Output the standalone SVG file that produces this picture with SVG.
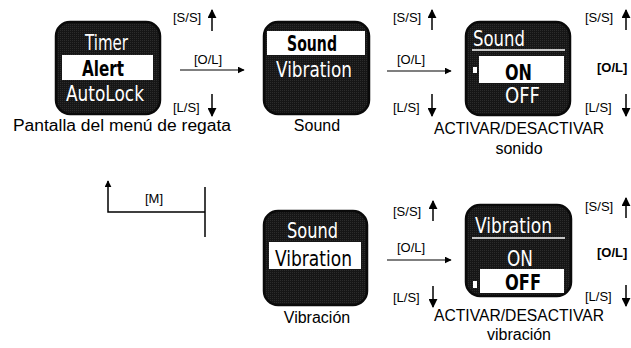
<svg xmlns="http://www.w3.org/2000/svg" width="631" height="348" viewBox="0 0 631 348">
<defs>
<pattern id="lcd" width="2" height="2" patternUnits="userSpaceOnUse">
<rect width="2" height="2" fill="#161616"/>
<rect width="1" height="1" fill="#2c2c2c"/>
</pattern>
<marker id="ah" viewBox="0 0 10 10" refX="9" refY="5" markerWidth="7" markerHeight="7" markerUnits="userSpaceOnUse" orient="auto">
<path d="M0,0 L10,5 L0,10 Z" fill="#000"/>
</marker>
<marker id="ahb" viewBox="0 0 10 10" refX="9" refY="5" markerWidth="9" markerHeight="9" markerUnits="userSpaceOnUse" orient="auto">
<path d="M0,0 L10,5 L0,10 Z" fill="#000"/>
</marker>
</defs>
<style>
.dev{fill:url(#lcd);stroke:#0a0a0a;stroke-width:2.5}
.band{fill:#fff}
.lcd{font-family:"DejaVu Sans","Liberation Sans",sans-serif;fill:#fff;font-size:21.5px}
.lcdk{font-family:"DejaVu Sans","Liberation Sans",sans-serif;fill:#000;font-size:21.5px}
.lbl{font-family:"Liberation Sans",Arial,sans-serif;font-size:13px;fill:#000}
.bold{font-weight:bold}
.cap{font-family:"Liberation Sans",Arial,sans-serif;font-size:16px;fill:#000;text-anchor:middle}
.ln{stroke:#000;stroke-width:1.5;fill:none}
.arr{stroke:#000;stroke-width:1.5;fill:none;marker-end:url(#ahb)}
.arrh{stroke:#000;stroke-width:1.2;fill:none;marker-end:url(#ah)}
</style>

<g id="screen-menu">
<rect class="dev" x="56" y="22" width="104" height="92" rx="14"/>
<rect class="band" x="62" y="55" width="91" height="25"/>
<text class="lcd" x="85" y="50" textLength="43" lengthAdjust="spacingAndGlyphs">Timer</text>
<text class="lcdk bold" x="82" y="76" textLength="42" lengthAdjust="spacingAndGlyphs">Alert</text>
<text class="lcd" x="66" y="101" textLength="78" lengthAdjust="spacingAndGlyphs">AutoLock</text>
<text class="cap" x="122" y="131" textLength="218" lengthAdjust="spacingAndGlyphs">Pantalla del menú de regata</text>
</g>

<g id="screen-sound">
<rect class="dev" x="264" y="22" width="105" height="92" rx="14"/>
<rect class="band" x="267" y="31" width="98" height="24"/>
<text class="lcdk" x="287" y="51" textLength="50" lengthAdjust="spacingAndGlyphs" style="font-weight:600">Sound</text>
<text class="lcd" x="276" y="77" textLength="76" lengthAdjust="spacingAndGlyphs">Vibration</text>
<text class="cap" x="317" y="131">Sound</text>
</g>

<g id="screen-sound-onoff">
<rect class="dev" x="466" y="22" width="104" height="93" rx="14"/>
<text class="lcd" x="473" y="46" textLength="52" lengthAdjust="spacingAndGlyphs">Sound</text>
<line x1="472" y1="50" x2="565" y2="50" stroke="#fff" stroke-width="1.5"/>
<rect class="band" x="479" y="56" width="85" height="27"/>
<rect class="band" x="473" y="67" width="4" height="6"/>
<text class="lcdk" x="505" y="80" textLength="27" lengthAdjust="spacingAndGlyphs" style="font-weight:600">ON</text>
<text class="lcd" x="505" y="103" textLength="35" lengthAdjust="spacingAndGlyphs">OFF</text>
<text class="cap" x="519" y="134" textLength="170" lengthAdjust="spacingAndGlyphs">ACTIVAR/DESACTIVAR</text>
<text class="cap" x="519" y="154">sonido</text>
</g>

<g id="screen-vibration">
<rect class="dev" x="264" y="211" width="103" height="94" rx="14"/>
<rect class="band" x="269" y="242" width="92" height="27"/>
<text class="lcd" x="287" y="238" textLength="51" lengthAdjust="spacingAndGlyphs">Sound</text>
<text class="lcdk" x="275" y="266" textLength="77" lengthAdjust="spacingAndGlyphs">Vibration</text>
<text class="cap" x="317" y="323">Vibración</text>
</g>

<g id="screen-vibration-onoff">
<rect class="dev" x="466" y="205" width="105" height="91" rx="14"/>
<text class="lcd" x="475" y="233" textLength="77" lengthAdjust="spacingAndGlyphs">Vibration</text>
<line x1="472" y1="238" x2="565" y2="238" stroke="#fff" stroke-width="1.5"/>
<text class="lcd" x="507" y="266" textLength="26" lengthAdjust="spacingAndGlyphs">ON</text>
<rect class="band" x="480" y="269" width="84" height="24"/>
<rect class="band" x="473" y="281" width="4" height="7"/>
<text class="lcdk" x="505" y="290" textLength="36" lengthAdjust="spacingAndGlyphs" style="font-weight:600">OFF</text>
<text class="cap" x="519" y="321" textLength="170" lengthAdjust="spacingAndGlyphs">ACTIVAR/DESACTIVAR</text>
<text class="cap" x="519" y="340">vibración</text>
</g>

<g id="connectors">
<text class="lbl" x="173" y="22">[S/S]</text>
<line class="arr" x1="212" y1="31" x2="212" y2="10"/>
<text class="lbl" x="194" y="64">[O/L]</text>
<line class="arrh" x1="180" y1="70" x2="244" y2="70"/>
<text class="lbl" x="173" y="112">[L/S]</text>
<line class="arr" x1="212" y1="94" x2="212" y2="116"/>

<text class="lbl" x="393" y="22">[S/S]</text>
<line class="arr" x1="432" y1="30" x2="432" y2="10"/>
<text class="lbl" x="397" y="64">[O/L]</text>
<line class="arrh" x1="387" y1="71" x2="451" y2="71"/>
<text class="lbl" x="393" y="112">[L/S]</text>
<line class="arr" x1="432" y1="94" x2="432" y2="116"/>

<text class="lbl" x="585" y="22">[S/S]</text>
<line class="arr" x1="626" y1="30" x2="626" y2="10"/>
<text class="lbl bold" x="597" y="72">[O/L]</text>
<text class="lbl" x="585" y="112">[L/S]</text>
<line class="arr" x1="626" y1="94" x2="626" y2="116"/>

<line class="ln" x1="205" y1="187" x2="205" y2="237"/>
<path class="ln" d="M205,212 H108 V181" marker-end="url(#ah)"/>
<text class="lbl" x="145" y="203">[M]</text>

<text class="lbl" x="393" y="216">[S/S]</text>
<line class="arr" x1="433" y1="221" x2="433" y2="201"/>
<text class="lbl" x="397" y="252">[O/L]</text>
<line class="arrh" x1="387" y1="260" x2="451" y2="260"/>
<text class="lbl" x="393" y="302">[L/S]</text>
<line class="arr" x1="433" y1="286" x2="433" y2="307"/>

<text class="lbl" x="585" y="211">[S/S]</text>
<line class="arr" x1="626" y1="218" x2="626" y2="198"/>
<text class="lbl bold" x="597" y="257">[O/L]</text>
<text class="lbl" x="585" y="301">[L/S]</text>
<line class="arr" x1="626" y1="285" x2="626" y2="306"/>
</g>
</svg>
